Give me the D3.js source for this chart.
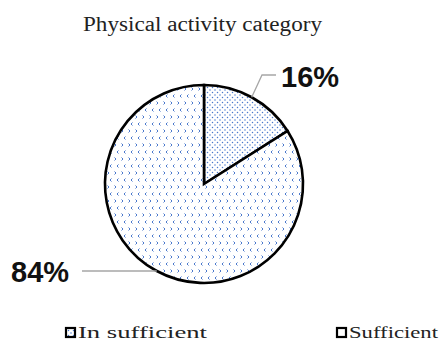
<!DOCTYPE html>
<html><head><meta charset="utf-8">
<script src="https://cdn.jsdelivr.net/npm/d3@7"></script>
<style>html,body{margin:0;padding:0;background:#fff;}</style>
</head><body>
<script>
const title = "Physical activity category";
const categories = ["In sufficient", "Sufficient"];
const values = [16, 84];
const labels = ["16%", "84%"];

const W = 445, H = 342;
const svg = d3.select("body").append("svg").attr("width", W).attr("height", H);
const defs = svg.append("defs");
const blue = "#4a78cc";

// dotted pattern
const p1 = defs.append("pattern").attr("id", "dots").attr("patternUnits", "userSpaceOnUse")
  .attr("width", 5).attr("height", 5);
p1.append("rect").attr("width", 5).attr("height", 5).attr("fill", "#fff");
p1.append("circle").attr("cx", 1).attr("cy", 1).attr("r", 0.75).attr("fill", blue);
p1.append("circle").attr("cx", 3.5).attr("cy", 3.5).attr("r", 0.75).attr("fill", blue);

// chevron pattern
const p2 = defs.append("pattern").attr("id", "chev").attr("patternUnits", "userSpaceOnUse")
  .attr("width", 7).attr("height", 14);
p2.append("rect").attr("width", 7).attr("height", 14).attr("fill", "#fff");
p2.append("path").attr("d", "M1.5,1.5 L3,3 L1.5,4.5").attr("fill", "none").attr("stroke", blue).attr("stroke-width", 1);
p2.append("path").attr("d", "M5.5,8.5 L4,10 L5.5,11.5").attr("fill", "none").attr("stroke", blue).attr("stroke-width", 1);

const fills = ["url(#dots)", "url(#chev)"];

svg.append("text").attr("x", 202.5).attr("y", 31).attr("text-anchor", "middle")
  .attr("font-family", "'Liberation Serif', 'Times New Roman', serif").attr("font-size", 20)
  .attr("textLength", 239).attr("lengthAdjust", "spacingAndGlyphs")
  .attr("fill", "#222").text(title);

const cx = 204, cy = 184, r = 99;
const g = svg.append("g").attr("transform", `translate(${cx},${cy})`);
const pie = d3.pie().sort(null).value(d => d)(values);
const arc = d3.arc().innerRadius(0).outerRadius(r);
g.selectAll("path.slice").data(pie).join("path").attr("class", "slice")
  .attr("d", arc).attr("fill", (d, i) => fills[i])
  .attr("stroke", "#000").attr("stroke-width", 2.6).attr("stroke-linejoin", "miter");

// leader lines
const a0 = (pie[0].startAngle + pie[0].endAngle) / 2;
const e0 = [r * Math.sin(a0), -r * Math.cos(a0)];
g.append("polyline").attr("points", `${e0[0]},${e0[1]} ${262 - cx},${75 - cy} ${276 - cx},${75 - cy}`)
  .attr("fill", "none").attr("stroke", "#a6a6a6").attr("stroke-width", 1.3);
const yl = 271 - cy;
const xl = -Math.sqrt(r * r - yl * yl);
g.append("line").attr("x1", xl).attr("y1", yl).attr("x2", 82 - cx).attr("y2", yl)
  .attr("stroke", "#a6a6a6").attr("stroke-width", 1.3);

svg.append("text").attr("x", 281).attr("y", 87).attr("font-family", "'Liberation Sans', Arial, sans-serif")
  .attr("font-weight", "bold").attr("font-size", 29).attr("fill", "#111").text(labels[0]);
svg.append("text").attr("x", 11).attr("y", 282).attr("font-family", "'Liberation Sans', Arial, sans-serif")
  .attr("font-weight", "bold").attr("font-size", 29).attr("fill", "#111").text(labels[1]);

// legend
const legX = [65, 336];
const legLen = [129, 89];
const leg = svg.selectAll("g.leg").data(categories).join("g").attr("class", "leg")
  .attr("transform", (d, i) => `translate(${legX[i]},327)`);
leg.append("rect").attr("x", 1).attr("y", 1).attr("width", 9).attr("height", 9)
  .attr("fill", (d, i) => i === 0 ? "url(#dots)" : "#fff").attr("stroke", "#000").attr("stroke-width", 2.2);
leg.append("text").attr("x", 13).attr("y", 10.5)
  .attr("font-family", "'Liberation Serif', 'Times New Roman', serif").attr("font-size", 17)
  .attr("textLength", (d, i) => legLen[i]).attr("lengthAdjust", "spacingAndGlyphs")
  .attr("fill", "#222").text(d => d);
</script>
</body></html>
